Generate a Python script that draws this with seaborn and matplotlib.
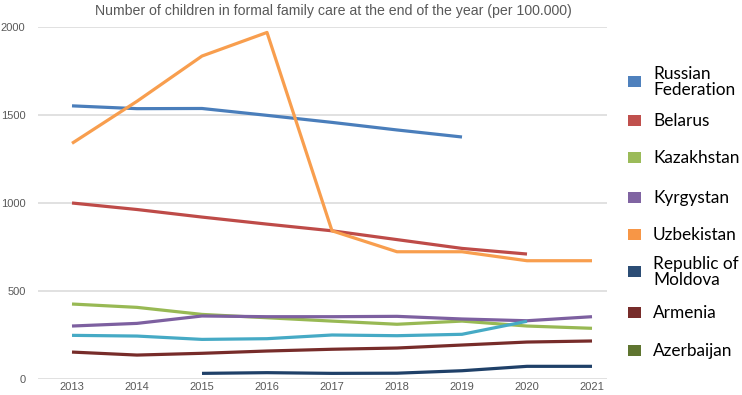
import pandas as pd
import numpy as np
import matplotlib.pyplot as plt
from matplotlib.patches import Rectangle
import seaborn as sns

# Data (per 100.000 children)
years = [2013, 2014, 2015, 2016, 2017, 2018, 2019, 2020, 2021]
russian_federation = [1552, 1536, 1537, 1498, 1458, 1415, 1375, np.nan, np.nan]
belarus = [1000, 963, 920, 880, 842, 792, 742, 710, np.nan]
kazakhstan = [426, 407, 367, 348, 329, 311, 329, 301, 288]
kyrgyzstan = [301, 316, 358, 354, 354, 356, 341, 331, 354]
uzbekistan = [1339, 1578, 1835, 1969, 842, 723, 723, 672, 672]
moldova = [np.nan, np.nan, 32, 36, 32, 33, 47, 72, 72]
armenia = [153, 136, 146, 159, 169, 176, 193, 210, 216]
azerbaijan = [np.nan] * 9
unlabelled = [248, 244, 225, 229, 250, 246, 254, 328, np.nan]

series_names = ['Russian Federation', 'Belarus', 'Kazakhstan', 'Kyrgystan',
                'Uzbekistan', 'Republic of Moldova', 'Armenia', 'Azerbaijan',
                'Unlabelled']
series_values = [russian_federation, belarus, kazakhstan, kyrgyzstan,
                 uzbekistan, moldova, armenia, azerbaijan, unlabelled]
legend_labels = ['Russian\nFederation', 'Belarus', 'Kazakhstan', 'Kyrgystan',
                 'Uzbekistan', 'Republic of\nMoldova', 'Armenia', 'Azerbaijan']
line_colors = ['#4A7EBB', '#BE4B48', '#98B954', '#7D60A0', '#F89E4E',
               '#1F4068', '#772C2A', '#5F7530', '#46AAC5']
legend_colors = ['#4F81BD', '#C0504D', '#9BBB59', '#8064A2', '#F79646',
                 '#2C4D75', '#772C2A', '#5F7530']

# long-form table for seaborn
df = pd.DataFrame({
    'year': np.tile(years, len(series_names)),
    'country': np.repeat(series_names, len(years)),
    'value': np.concatenate(series_values),
})

sns.set_theme(style='white')
plt.rcParams['font.family'] = ['Liberation Sans', 'DejaVu Sans']

W, H = 742, 395
fig = plt.figure(figsize=(W / 100, H / 100), dpi=100)
ax = fig.add_axes([38 / W, (H - 379) / H, (607 - 38) / W, (379 - 27) / H])

sns.lineplot(data=df, x='year', y='value', hue='country',
             palette=dict(zip(series_names, line_colors)),
             linewidth=2.3, legend=False, ax=ax)
for line in ax.lines:
    line.set_clip_on(False)
    line.set_solid_capstyle('butt')

ax.set_xlim(2013 - 34 / 65, 2021 + 15 / 65)
ax.set_ylim(0, 2000)
ax.set_xticks(years)
ax.set_yticks([0, 500, 1000, 1500, 2000])
ax.yaxis.grid(True, color='#D9D9D9', linewidth=1.1)
ax.set_axisbelow(True)
for s in ax.spines.values():
    s.set_visible(False)
ax.tick_params(axis='both', length=0, labelsize=8, labelcolor='#595959')
ax.tick_params(axis='y', pad=9)
ax.tick_params(axis='x', pad=2.5)
ax.set_xlabel('')
ax.set_ylabel('')

fig.text(333 / W, 1 - 11 / H,
         'Number of children in formal family care at the end of the year (per 100.000)',
         ha='center', va='center', fontsize=10.2, color='#595959')

# legend drawn at the right, squares + labels
legend_y = [82, 121, 158, 198, 235, 272, 313, 351]
for lab, col, yc in zip(legend_labels, legend_colors, legend_y):
    fig.patches.append(Rectangle((628 / W, 1 - (yc + 5) / H), 13 / W, 11 / H,
                                 transform=fig.transFigure, facecolor=col,
                                 edgecolor='none'))
    fig.text(653 / W, 1 - yc / H, lab, ha='left', va='center',
             fontsize=12.4, color='black', family=['Lato', 'DejaVu Sans'],
             linespacing=0.95)

fig.savefig('out.png', dpi=100)
